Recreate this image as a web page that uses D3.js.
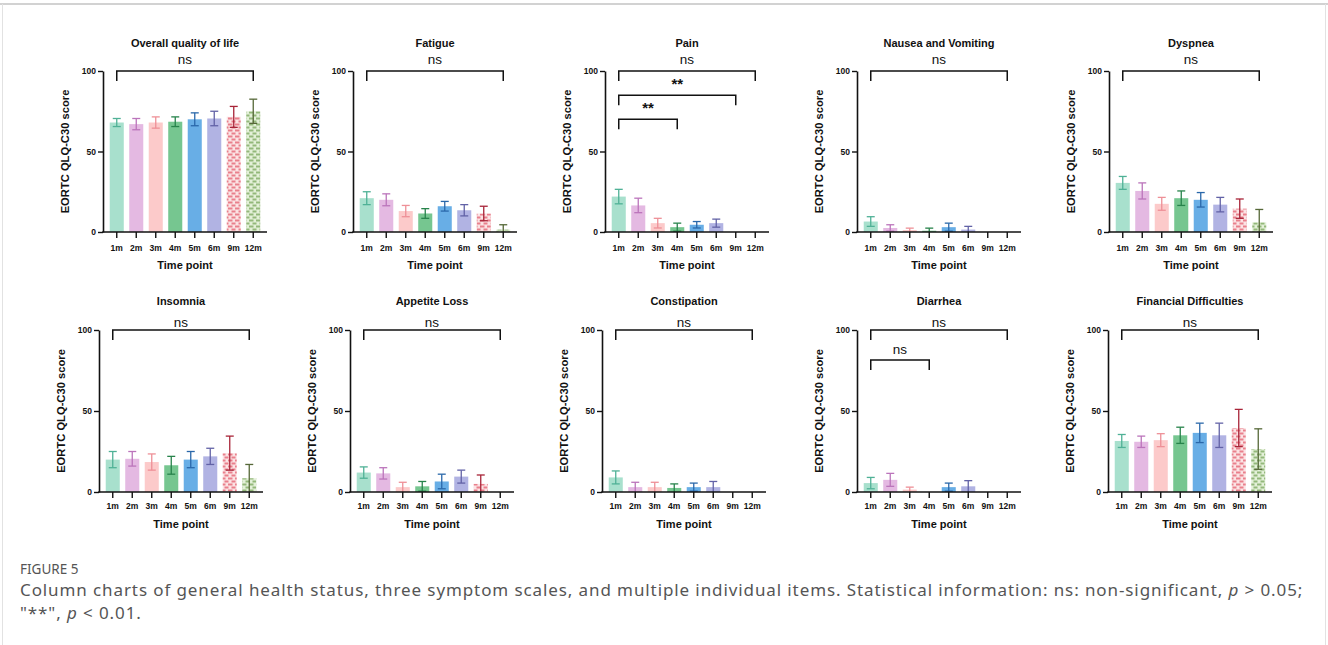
<!DOCTYPE html>
<html>
<head>
<meta charset="utf-8">
<script src="https://cdn.jsdelivr.net/npm/d3@7"></script>
<style>
body{margin:0;background:#fff;}
svg{display:block;}
.cap{font-family:"Noto Sans",sans-serif;fill:#555;}
</style>
</head>
<body>
<script>
var timePoints=["1m","2m","3m","4m","5m","6m","9m","12m"];
var titles=["Overall quality of life","Fatigue","Pain","Nausea and Vomiting","Dyspnea",
            "Insomnia","Appetite Loss","Constipation","Diarrhea","Financial Difficulties"];

// mean and error for each time point
var qolMean=[68,67,68,68.5,70,70.5,71.5,75],          qolErr=[2.5,3.5,3.5,3,4,4.5,6.5,7.5];
var fatigueMean=[21,20,13,11.5,16,13.5,11.5,1.5],     fatigueErr=[4,3.7,3.5,3,3,3.5,4.5,3];
var painMean=[22,16.5,5.5,3,4.5,5.5,0,0],             painErr=[4.5,4.5,3,2.5,2,2.5,0,0];
var nauseaMean=[6.5,2.5,1.2,0.8,3,1.5,0,0],           nauseaErr=[3,2,1.2,1.6,2.5,2,0,0];
var dyspneaMean=[30.5,25.5,17.5,21,20,17,14.5,6],     dyspneaErr=[4,5,4,4.5,4.5,4.5,6,8];
var insomniaMean=[20,20.5,18.5,16.5,20,22,24,8.5],    insomniaErr=[5,4.5,5,5.5,5,5,10.5,8.5];
var appetiteMean=[12,11.5,3,3.5,6.5,9.5,5,0],         appetiteErr=[3.5,3.5,3,3,4.5,4,5.5,0];
var constipMean=[9,3,3,2.5,3,3,0,0],                  constipErr=[4,3,3,2.5,2.5,3.5,0,0];
var diarrheaMean=[5.5,7.5,1.5,0,3,3.5,0,0],           diarrheaErr=[3.5,4,1.5,0,2.5,3.5,0,0];
var financeMean=[31.5,31,32,35,36.5,35,39.5,26.5],    financeErr=[4,3.5,4,5,6,7.5,11.5,12.5];

var yTicks=[0,50,100];

// brackets: [from, to, level, label]
var mainBracket=[["1m","12m",100,"ns"]];
var painBrackets=[["1m","12m",100,"ns"],["1m","9m",85,"**"],["1m","4m",70,"**"]];
var diarrheaBrackets=[["1m","12m",100,"ns"],["1m","4m",81.5,"ns"]];

var means=[qolMean,fatigueMean,painMean,nauseaMean,dyspneaMean,insomniaMean,appetiteMean,constipMean,diarrheaMean,financeMean];
var errs=[qolErr,fatigueErr,painErr,nauseaErr,dyspneaErr,insomniaErr,appetiteErr,constipErr,diarrheaErr,financeErr];
var brackets=[mainBracket,mainBracket,painBrackets,mainBracket,mainBracket,mainBracket,mainBracket,mainBracket,diarrheaBrackets,mainBracket];

var fills=["#a8e0cd","#e4b9e2","#fccaca","#76c690","#68aee6","#b1b3e3","url(#pat9)","url(#pat12)"];
var errCols=["#4fb196","#bb74bb","#ee9097","#27834b","#2a68aa","#6262a6","#a82438","#566838"];

var W=1328,H=645;
var svg=d3.select("body").append("svg").attr("width",W).attr("height",H);

// frame
svg.append("rect").attr("x",0).attr("y",0).attr("width",W).attr("height",H).attr("fill","#fff");
svg.append("line").attr("x1",0).attr("x2",W).attr("y1",4).attr("y2",4).attr("stroke","#d2d2d2").attr("stroke-width",2);
svg.append("line").attr("x1",2.5).attr("x2",2.5).attr("y1",4).attr("y2",H).attr("stroke","#e2e2e2").attr("stroke-width",1);
svg.append("line").attr("x1",W-2.5).attr("x2",W-2.5).attr("y1",4).attr("y2",H).attr("stroke","#e2e2e2").attr("stroke-width",1);

// patterns for 9m and 12m
var defs=svg.append("defs");
function makePat(id,bg,fg){
  var p=defs.append("pattern").attr("id",id).attr("patternUnits","userSpaceOnUse")
    .attr("width",7).attr("height",6);
  p.append("rect").attr("width",7).attr("height",6).attr("fill",bg);
  p.append("rect").attr("x",0.5).attr("y",0.5).attr("width",4).attr("height",2).attr("fill",fg);
  p.append("rect").attr("x",4).attr("y",3.5).attr("width",3).attr("height",2).attr("fill",fg);
  p.append("rect").attr("x",0).attr("y",3.5).attr("width",1.5).attr("height",2).attr("fill",fg);
}
makePat("pat9","#fbe3e4","#e9808c");
makePat("pat12","#e3f0d8","#93b87a");

var axisXTop=[103,353,605,857,1109], axisXBot=[99,350,602,857,1108];
var rows=[{y0:232,y100:71,title:47,ns:64,tick:251,xt:269},
          {y0:492,y100:330,title:305,ns:327,tick:509,xt:528}];

var font='"Liberation Sans",Arial,sans-serif';

for(var i=0;i<10;i++){
  var r=rows[i<5?0:1];
  var ax=(i<5?axisXTop:axisXBot)[i%5];
  var y=d3.scaleLinear().domain([0,100]).range([r.y0,r.y100]);
  var x=d3.scaleBand().domain(timePoints).range([ax+4,ax+160]).paddingInner(0.28).paddingOuter(0.14);
  var g=svg.append("g");
  var m=means[i],e=errs[i];
  var rowsData=timePoints.map(function(t,k){return {t:t,k:k,v:m[k],e:e[k]};});

  g.selectAll(".bar").data(rowsData).enter().append("rect")
    .attr("x",function(d){return x(d.t);})
    .attr("y",function(d){return y(d.v);})
    .attr("width",x.bandwidth())
    .attr("height",function(d){return y(0)-y(d.v);})
    .attr("fill",function(d){return fills[d.k];});

  var eb=g.selectAll(".eb").data(rowsData.filter(function(d){return d.e>0;})).enter().append("g")
    .attr("stroke",function(d){return errCols[d.k];}).attr("stroke-width",1.3).attr("fill","none");
  eb.append("line")
    .attr("x1",function(d){return x(d.t)+x.bandwidth()/2;})
    .attr("x2",function(d){return x(d.t)+x.bandwidth()/2;})
    .attr("y1",function(d){return y(d.v+d.e);})
    .attr("y2",function(d){return y(Math.max(0,d.v-d.e));});
  eb.append("line")
    .attr("x1",function(d){return x(d.t)+x.bandwidth()/2-4;})
    .attr("x2",function(d){return x(d.t)+x.bandwidth()/2+4;})
    .attr("y1",function(d){return y(d.v+d.e);})
    .attr("y2",function(d){return y(d.v+d.e);});
  eb.filter(function(d){return d.v-d.e>0;}).append("line")
    .attr("x1",function(d){return x(d.t)+x.bandwidth()/2-4;})
    .attr("x2",function(d){return x(d.t)+x.bandwidth()/2+4;})
    .attr("y1",function(d){return y(d.v-d.e);})
    .attr("y2",function(d){return y(d.v-d.e);});

  // y axis
  var ya=g.append("g").attr("transform","translate("+ax+",0)")
    .call(d3.axisLeft(y).tickValues(yTicks).tickSize(5).tickSizeOuter(0).tickPadding(2));
  ya.select(".domain").attr("stroke","#111").attr("stroke-width",1.6);
  ya.selectAll(".tick line").attr("stroke","#111").attr("stroke-width",1.4);
  ya.selectAll(".tick text").attr("font-family",font).attr("font-weight","bold").attr("font-size",8.5).attr("fill","#111");

  // x axis
  g.append("line").attr("x1",ax-0.8).attr("x2",ax+164).attr("y1",y(0)).attr("y2",y(0))
    .attr("stroke","#111").attr("stroke-width",1.6);
  var xa=g.append("g").attr("transform","translate(0,"+y(0)+")")
    .call(d3.axisBottom(x).tickSize(6).tickSizeOuter(0));
  xa.select(".domain").remove();
  xa.selectAll(".tick line").attr("stroke","#111").attr("stroke-width",1.4);
  xa.selectAll(".tick text").remove();
  g.selectAll(".xl").data(timePoints).enter().append("text")
    .attr("x",function(d){return x(d)+x.bandwidth()/2;}).attr("y",r.tick)
    .attr("text-anchor","middle").attr("font-family",font).attr("font-weight","bold")
    .attr("font-size",8.5).attr("fill","#111").text(function(d){return d;});

  var cx=(x("1m")+x("12m")+x.bandwidth())/2;
  g.append("text").attr("x",cx).attr("y",r.xt).attr("text-anchor","middle")
    .attr("font-family",font).attr("font-weight","bold").attr("font-size",11).attr("fill","#111").text("Time point");
  g.append("text").attr("x",cx).attr("y",r.title).attr("text-anchor","middle")
    .attr("font-family",font).attr("font-weight","bold").attr("font-size",11).attr("fill","#111").text(titles[i]);
  g.append("text").attr("transform","translate("+(ax-34)+","+((r.y0+r.y100)/2)+") rotate(-90)")
    .attr("text-anchor","middle").attr("font-family",font).attr("font-weight","bold")
    .attr("font-size",11.2).attr("fill","#111").text("EORTC QLQ-C30 score");

  // significance brackets
  brackets[i].forEach(function(b,bi){
    var x1=x(b[0])+x.bandwidth()/2, x2=x(b[1])+x.bandwidth()/2, yy=y(b[2]);
    g.append("path").attr("d","M"+x1+","+(yy+10)+"V"+yy+"H"+x2+"V"+(yy+10))
      .attr("fill","none").attr("stroke","#111").attr("stroke-width",1.5);
    var star=b[3]==="**";
    g.append("text").attr("x",(x1+x2)/2)
      .attr("y",b[2]===100?r.ns:(star?yy-6:yy-6))
      .attr("text-anchor","middle").attr("font-family",font)
      .attr("font-weight",star?"bold":"normal").attr("font-size",star?15:13.5)
      .attr("fill","#111").text(b[3]);
  });
}

// caption
svg.append("text").attr("class","cap").attr("x",20).attr("y",574).attr("font-size",13.5).text("FIGURE 5");
var l1=svg.append("text").attr("class","cap").attr("x",20).attr("y",596).attr("font-size",17).attr("letter-spacing",0.9);
l1.append("tspan").text("Column charts of general health status, three symptom scales, and multiple individual items. Statistical information: ns: non-significant, ");
l1.append("tspan").attr("font-style","italic").text("p");
l1.append("tspan").text(" > 0.05;");
var l2=svg.append("text").attr("class","cap").attr("x",20).attr("y",619).attr("font-size",17).attr("letter-spacing",0.9);
l2.append("tspan").text("\"**\", ");
l2.append("tspan").attr("font-style","italic").text("p");
l2.append("tspan").text(" < 0.01.");
</script>
</body>
</html>
